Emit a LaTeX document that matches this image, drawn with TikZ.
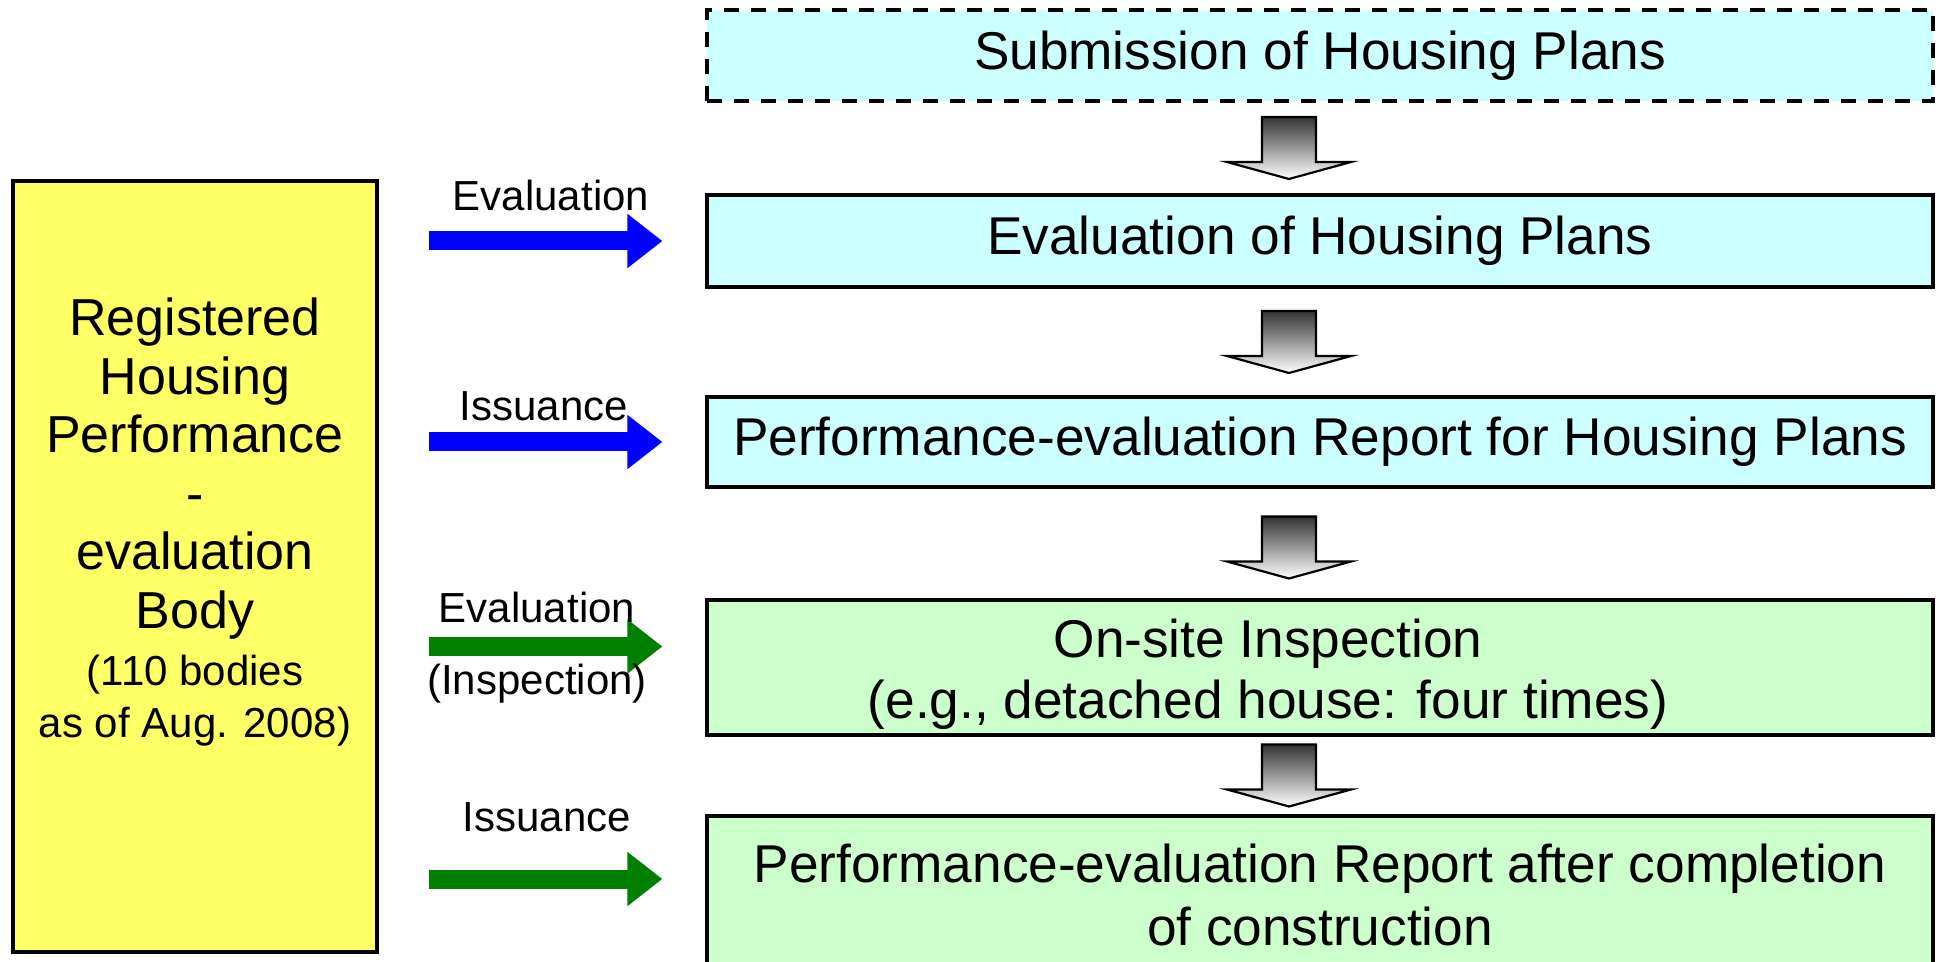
\documentclass[tikz,border=0pt]{standalone}
\usepackage{fontspec}
\setmainfont{Liberation Sans}
\usetikzlibrary{arrows.meta,calc}
\definecolor{boxcyan}{HTML}{CCFFFF}
\definecolor{boxgreen}{HTML}{CCFFCC}
\definecolor{boxyellow}{HTML}{FFFF66}
\definecolor{arrgreen}{HTML}{008000}
\tikzset{
  stagefont/.style={font=\fontsize{26.6}{30.5}\selectfont},
  stagebox/.style={draw=black, line width=1.6pt, minimum width=613pt, inner sep=0pt, align=center, stagefont},
  cyanbox/.style={stagebox, fill=boxcyan},
  greenbox/.style={stagebox, fill=boxgreen},
  dashbox/.style={cyanbox, dash pattern=on 7.5pt off 6pt},
  bodybox/.style={draw=black, line width=1.6pt, fill=boxyellow, minimum width=182pt, minimum height=385.5pt, inner sep=0pt},
  flowarrow/.style={line width=9.5pt, -{Triangle[length=17.5pt,width=26pt]}},
  bluearrow/.style={flowarrow, draw=blue},
  greenarrow/.style={flowarrow, draw=arrgreen},
  lbl/.style={font=\fontsize{21}{25}\selectfont, inner sep=0pt},
  blockarrow/.style={draw=black, line width=1.1pt, top color=black!80, bottom color=white, line join=miter},
}
\newcommand\downblock[1]{%
  \path[blockarrow] ($(#1)+(-27,-31)$) -- ($(#1)+(27,-31)$) -- ($(#1)+(27,14)$) -- ($(#1)+(62,14)$)
    -- ($(#1)+(0,31)$) -- ($(#1)+(-62,14)$) -- ($(#1)+(-27,14)$) -- cycle;}
\begin{document}
\begin{tikzpicture}[x=0.5pt,y=-0.5pt]
\useasboundingbox (0,0) rectangle (1939,962);
\clip (0,0) rectangle (1939,962);

% stage boxes
\node[dashbox, minimum height=45.5pt] (b1) at (1320,55.5) {Submission of Housing Plans};
\node[cyanbox, minimum height=46pt] (b2) at (1320,241) {Evaluation of Housing Plans};
\node[cyanbox, minimum height=45pt] (b3) at (1320,442) {Performance-evaluation Report for Housing Plans};
\node[greenbox, minimum height=67.5pt] (b4) at (1320,667.5) {};
\node[align=center, stagefont, inner sep=0pt] (b4text) at (1268,674) {On-site Inspection\\(e.g., detached house: four times)};
\node[greenbox, minimum height=79pt, font=\fontsize{26.6}{31.5}\selectfont] (b5) at (1320,895) {Performance-evaluation Report after completion\\of construction};

% left body box
\node[bodybox] (body) at (195,566.5) {};
\node[align=center, font=\fontsize{26}{29.3}\selectfont, inner sep=0pt] (bodytext) at (195,468.5)
  {Registered\\Housing\\Performance\\-\\evaluation\\Body};
\node[align=center, font=\fontsize{21}{26}\selectfont, inner sep=0pt] (bodynote) at (195,701)
  {(110 bodies\\as of Aug. 2008)};

% block arrows between stages
\coordinate (m1) at ($($(b1.south)!0.5!(b2.north)$)+(-31,0)$);
\coordinate (m2) at ($($(b2.south)!0.5!(b3.north)$)+(-31,0)$);
\coordinate (m3) at ($($(b3.south)!0.5!(b4.north)$)+(-31,4)$);
\coordinate (m4) at ($($(b4.south)!0.5!(b5.north)$)+(-31,0)$);
\downblock{m1}
\downblock{m2}
\downblock{m3}
\downblock{m4}

% horizontal arrows
\draw[bluearrow] ([xshift=25pt]body.east |- b2.west) -- ([xshift=-21.5pt]b2.west);
\draw[bluearrow] ([xshift=25pt]body.east |- b3.west) -- ([xshift=-21.5pt]b3.west);
\draw[greenarrow] ([xshift=25pt,yshift=10.5pt]body.east |- b4.west) -- ([xshift=-21.5pt,yshift=10.5pt]b4.west);
\draw[greenarrow] ([xshift=25pt,yshift=8pt]body.east |- b5.west) -- ([xshift=-21.5pt,yshift=8pt]b5.west);

% labels
\node[lbl] (l1) at (551,195) {Evaluation};
\node[lbl] (l2) at (544,406) {Issuance};
\node[lbl] (l3) at (537,607) {Evaluation};
\node[lbl] (l4) at (537,684) {(Inspection)};
\node[lbl] (l5) at (547,817) {Issuance};
\end{tikzpicture}
\end{document}
